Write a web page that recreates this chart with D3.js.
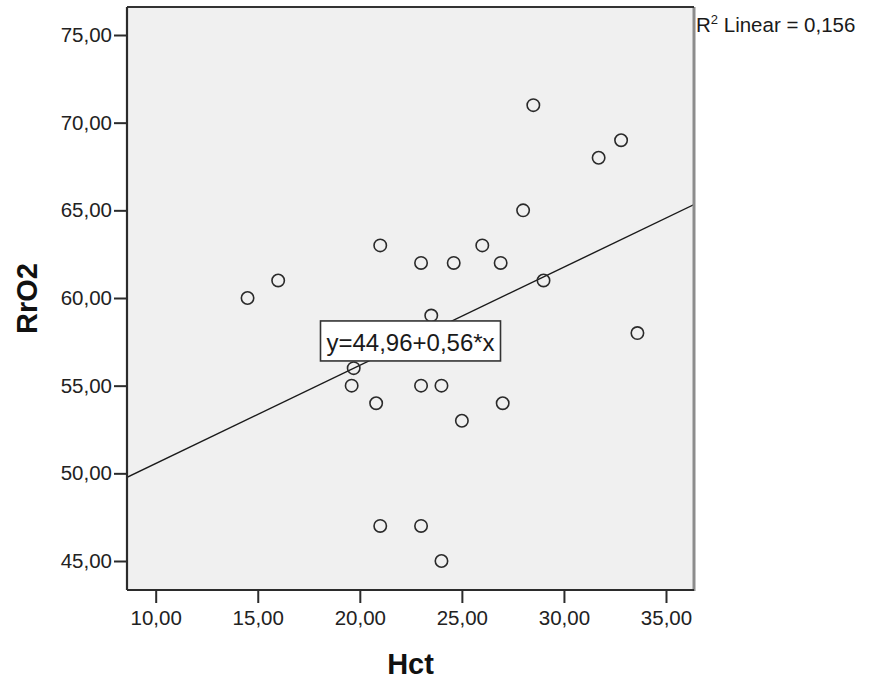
<!DOCTYPE html>
<html>
<head>
<meta charset="utf-8">
<script src="https://cdn.jsdelivr.net/npm/d3@7"></script>
<style>
  html, body { margin: 0; padding: 0; background: #ffffff; }
  svg { display: block; }
  text { font-family: "Liberation Sans", Arial, sans-serif; }
</style>
</head>
<body>
<svg id="chart" width="873" height="683"></svg>
<script>
// ---- data ----
const hct  = [14.5, 16.0, 19.6, 19.7, 20.8, 21.0, 21.0, 23.0, 23.0, 23.0, 23.5, 24.0, 24.0, 24.6, 25.0, 26.0, 26.9, 27.0, 28.0, 28.5, 29.0, 31.7, 32.8, 33.6];
const rro2 = [60,   61,   55,   56,   54,   63,   47,   62,   55,   47,   59,   55,   45,   62,   53,   63,   62,   54,   65,   71,   61,   68,   69,   58];
const xTicks = [10, 15, 20, 25, 30, 35];
const yTicks = [45, 50, 55, 60, 65, 70, 75];
const fitIntercept = 44.96;
const fitSlope = 0.56;
const rSquared = "0,156";
const xTitle = "Hct";
const yTitle = "RrO2";

const fmt = v => d3.format(".2f")(v).replace(".", ",");

// ---- layout ----
const L = 127, R = 694, T = 7, B = 590;
const svg = d3.select("#chart");

const x = d3.scaleLinear().domain([8.594, 36.372]).range([L, R]);
const y = d3.scaleLinear().domain([43.346, 76.597]).range([B, T]);

// plot background
svg.append("rect")
  .attr("x", L).attr("y", T).attr("width", R - L).attr("height", B - T)
  .attr("fill", "#f0f0f0");

// clip for the fit line
svg.append("clipPath").attr("id", "clip")
  .append("rect").attr("x", L).attr("y", T).attr("width", R - L).attr("height", B - T);

// regression line
const xd = x.domain();
svg.append("line")
  .attr("clip-path", "url(#clip)")
  .attr("x1", x(xd[0])).attr("y1", y(fitIntercept + fitSlope * xd[0]))
  .attr("x2", x(xd[1])).attr("y2", y(fitIntercept + fitSlope * xd[1]))
  .attr("stroke", "#1a1a1a").attr("stroke-width", 1.4);

// points
svg.append("g").selectAll("circle")
  .data(hct.map((h, i) => [h, rro2[i]]))
  .join("circle")
  .attr("cx", d => x(d[0])).attr("cy", d => y(d[1]))
  .attr("r", 6.2)
  .attr("fill", "none").attr("stroke", "#2a2a2a").attr("stroke-width", 1.6);

// frame
svg.append("line").attr("x1", R).attr("x2", R).attr("y1", T).attr("y2", B + 1)
  .attr("stroke", "#8c8c8c").attr("stroke-width", 3);
svg.append("line").attr("x1", L).attr("x2", R).attr("y1", T).attr("y2", T)
  .attr("stroke", "#333").attr("stroke-width", 2);

// axes
const xAxis = svg.append("g").attr("transform", `translate(0,${B})`)
  .call(d3.axisBottom(x).tickValues(xTicks).tickFormat(fmt).tickSize(13).tickPadding(7));
const yAxis = svg.append("g").attr("transform", `translate(${L},0)`)
  .call(d3.axisLeft(y).tickValues(yTicks).tickFormat(fmt).tickSize(13).tickPadding(2));

[xAxis, yAxis].forEach(g => {
  g.select(".domain").attr("stroke", "#2b2b2b").attr("stroke-width", 2.2);
  g.selectAll(".tick line").attr("stroke", "#2b2b2b").attr("stroke-width", 2);
  g.selectAll(".tick text")
    .attr("font-family", "Liberation Sans, Arial, sans-serif")
    .attr("font-size", 20.5).attr("fill", "#222");
});
// x domain line: extend to the frame edges without end ticks
xAxis.select(".domain").attr("d", `M${L},0H${R}`);
yAxis.select(".domain").attr("d", `M0,${B}V${T}`);

// equation label, centred on the fit line at the plot's horizontal centre
const cxPix = (L + R) / 2;
const cxVal = x.invert(cxPix);
const cyPix = y(fitIntercept + fitSlope * cxVal);
const lbl = svg.append("g").attr("transform", `translate(${cxPix},${cyPix})`);
lbl.append("rect")
  .attr("x", -90).attr("y", -20).attr("width", 180).attr("height", 40)
  .attr("fill", "#ffffff").attr("stroke", "#333").attr("stroke-width", 1.6);
lbl.append("text")
  .attr("text-anchor", "middle").attr("y", 10.5)
  .attr("font-size", 24).attr("fill", "#1a1a1a")
  .text(`y=${fmt(fitIntercept)}+${fmt(fitSlope)}*x`);

// R² annotation
const r2 = svg.append("text").attr("x", 696).attr("y", 32)
  .attr("font-size", 20.5).attr("fill", "#1a1a1a");
r2.append("tspan").text("R");
r2.append("tspan").attr("font-size", 13).attr("dy", -8).text("2");
r2.append("tspan").attr("dy", 8).text(` Linear = ${rSquared}`);

// axis titles
svg.append("text")
  .attr("x", (L + R) / 2).attr("y", 674)
  .attr("text-anchor", "middle")
  .attr("font-size", 29).attr("font-weight", "bold").attr("fill", "#111")
  .text(xTitle);
svg.append("text")
  .attr("transform", `translate(37,${(T + B) / 2}) rotate(-90)`)
  .attr("text-anchor", "middle")
  .attr("font-size", 29).attr("font-weight", "bold").attr("fill", "#111")
  .text(yTitle);
</script>
</body>
</html>
